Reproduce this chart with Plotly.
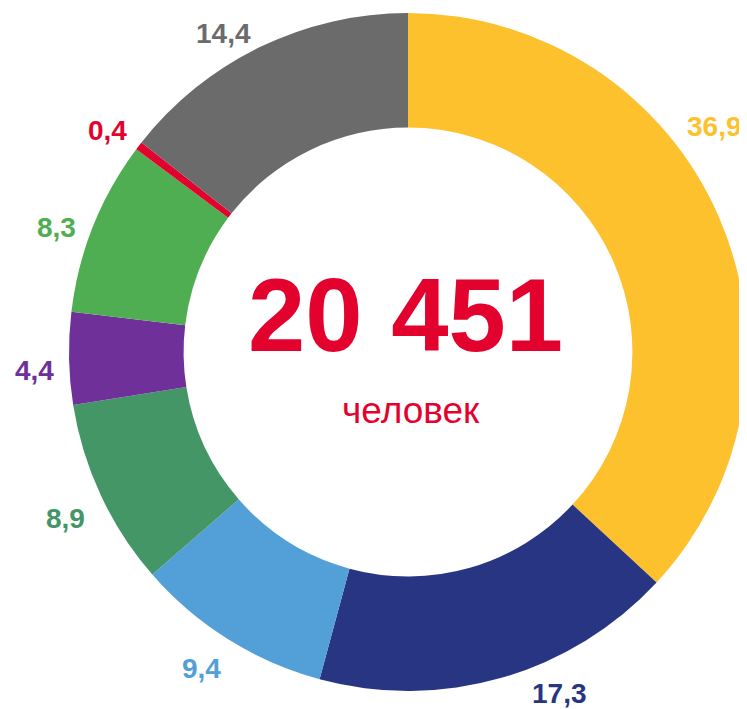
import math
import plotly.graph_objects as go

# ---- data ----
categories = ["A", "B", "C", "D", "E", "F", "G", "H"]
values = [36.9, 17.3, 9.4, 8.9, 4.4, 8.3, 0.4, 14.4]
value_labels = ["36,9", "17,3", "9,4", "8,9", "4,4", "8,3", "0,4", "14,4"]
total_text = "20 451"
unit_text = "человек"

# ---- styles ----
colors = ["#FDC12E", "#283583", "#539FD7", "#449667", "#6F309A", "#50AE52", "#E3022D", "#6B6B6B"]
label_angle_shift = [-12.9, -7.9, 1.2, -0.8, -1.6, -2.2, -1.0, -4.0]   # degrees
label_radial_pad = [42, 34, 38, 41, 35, 34, 35, 30]                   # px beyond outer radius

# page body has an 8px margin; figure sized to fit the 747x709 window
W, H = 739, 701
OFF = 8
cx_t, cy_t, r_t = 400, 352 - OFF, 339
dom_x = [max(0.0, (cx_t - r_t) / W), min(1.0, (cx_t + r_t) / W)]
dom_y = [max(0.0, 1 - (cy_t + r_t) / H), min(1.0, 1 - (cy_t - r_t) / H)]
hole = 0.662

fig = go.Figure(go.Pie(
    labels=categories,
    values=values,
    sort=False,
    direction="clockwise",
    rotation=0,
    hole=hole,
    marker=dict(colors=colors, line=dict(width=0)),
    textinfo="none",
    hoverinfo="skip",
    showlegend=False,
    domain=dict(x=dom_x, y=dom_y),
))

# pie geometry in pixels (same rule plotly uses)
wpx = (dom_x[1] - dom_x[0]) * W
hpx = (dom_y[1] - dom_y[0]) * H
r = min(wpx, hpx) / 2
cx = (dom_x[0] + dom_x[1]) / 2 * W
cy = (1 - (dom_y[0] + dom_y[1]) / 2) * H  # from top

annotations = []
total = sum(values)
cum = 0.0
for v, txt, col, da, pad in zip(values, value_labels, colors, label_angle_shift, label_radial_pad):
    mid = (cum + v / 2) / total * 360.0 + da
    cum += v
    rad = math.radians(mid)
    dist = r + pad
    px = cx + dist * math.sin(rad)
    py = cy - dist * math.cos(rad)
    annotations.append(dict(
        x=px / W, y=1 - (py + 1) / H, xref="paper", yref="paper",
        text=txt, showarrow=False, xanchor="center", yanchor="middle",
        font=dict(family="Liberation Sans", size=28, color=col, weight="bold"),
    ))

annotations.append(dict(
    x=(cx - 2.5) / W, y=1 - (cy - 37) / H, xref="paper", yref="paper",
    text="<b>" + total_text + "</b>", showarrow=False, xanchor="center", yanchor="middle",
    font=dict(family="Liberation Sans", size=103, color="#E3022D"),
))
annotations.append(dict(
    x=(cx + 2.5) / W, y=1 - (cy + 58) / H, xref="paper", yref="paper",
    text=unit_text, showarrow=False, xanchor="center", yanchor="middle",
    font=dict(family="Liberation Sans", size=37, color="#E3022D"),
))

fig.update_layout(
    width=W, height=H,
    margin=dict(l=0, r=0, t=0, b=0),
    paper_bgcolor="white", plot_bgcolor="white",
    annotations=annotations,
)

fig.write_html("out.html", config={"displayModeBar": False})
